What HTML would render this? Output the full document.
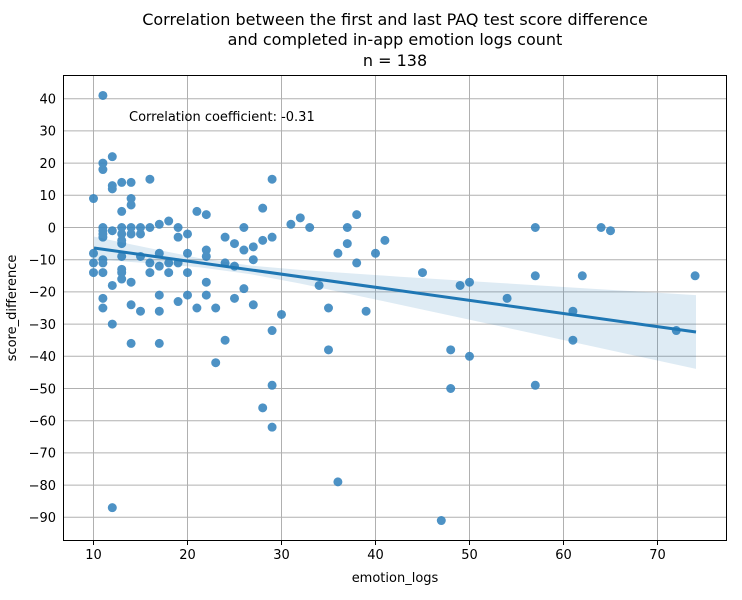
<!DOCTYPE html>
<html><head><meta charset="utf-8"><style>
html,body{margin:0;padding:0;background:#fff;}
svg{display:block;font-family:"DejaVu Sans","Liberation Sans",sans-serif;}
</style></head><body>
<svg width="742" height="600" viewBox="0 0 742 600" xmlns="http://www.w3.org/2000/svg">
<rect width="742" height="600" fill="#fff"/>
<g font-size="16" text-anchor="middle" fill="#000">
<text x="395" y="25">Correlation between the first and last PAQ test score difference</text>
<text x="395" y="45">and completed in-app emotion logs count</text>
<text x="395" y="66">n = 138</text>
</g>
<g stroke="#b0b0b0" stroke-width="1">
<line x1="93.5" y1="75" x2="93.5" y2="541"/><line x1="187.5" y1="75" x2="187.5" y2="541"/>
<line x1="281.5" y1="75" x2="281.5" y2="541"/><line x1="375.5" y1="75" x2="375.5" y2="541"/>
<line x1="469.5" y1="75" x2="469.5" y2="541"/><line x1="563.5" y1="75" x2="563.5" y2="541"/>
<line x1="657.5" y1="75" x2="657.5" y2="541"/>
<line x1="63" y1="98.7" x2="727" y2="98.7"/><line x1="63" y1="130.9" x2="727" y2="130.9"/>
<line x1="63" y1="163.1" x2="727" y2="163.1"/><line x1="63" y1="195.3" x2="727" y2="195.3"/>
<line x1="63" y1="227.5" x2="727" y2="227.5"/><line x1="63" y1="259.7" x2="727" y2="259.7"/>
<line x1="63" y1="291.9" x2="727" y2="291.9"/><line x1="63" y1="324.1" x2="727" y2="324.1"/>
<line x1="63" y1="356.3" x2="727" y2="356.3"/><line x1="63" y1="388.5" x2="727" y2="388.5"/>
<line x1="63" y1="420.7" x2="727" y2="420.7"/><line x1="63" y1="452.9" x2="727" y2="452.9"/>
<line x1="63" y1="485.1" x2="727" y2="485.1"/><line x1="63" y1="517.3" x2="727" y2="517.3"/>
</g>
<path transform="translate(-0.5,227.5) scale(9.4,-3.22)" fill="none" stroke="#3a86bf" stroke-opacity="0.9" stroke-width="9" stroke-linecap="round" vector-effect="non-scaling-stroke"
d="M11 41h0M12 22h0M11 20h0M11 18h0M12 13h0M12 12h0M13 14h0M14 14h0M16 15h0M29 15h0M10 9h0M14 9h0M14 7h0M13 5h0M21 5h0M22 4h0M28 6h0
M11 0h0M13 0h0M14 0h0M15 0h0M16 0h0M17 1h0M18 2h0M19 0h0M31 1h0M32 3h0M33 0h0M26 0h0
M11 -1h0M11 -2h0M11 -3h0M12 -1h0M13 -2h0M14 -2h0M15 -2h0M19 -3h0M20 -2h0M24 -3h0M25 -5h0M26 -7h0M27 -6h0M28 -4h0M29 -3h0M13 -4h0M13 -5h0
M10 -8h0M10 -11h0M10 -14h0M11 -10h0M11 -11h0M11 -14h0M13 -9h0M15 -9h0M17 -8h0M16 -11h0M16 -14h0M18 -11h0M19 -11h0M20 -8h0M20 -14h0M18 -14h0M17 -12h0M22 -7h0M22 -9h0M24 -11h0M25 -12h0M27 -10h0
M13 -13h0M13 -14h0M13 -16h0M14 -17h0M12 -18h0M11 -22h0M11 -25h0M17 -21h0M14 -24h0M15 -26h0M17 -26h0M19 -23h0M20 -21h0M21 -25h0M22 -21h0M22 -17h0M23 -25h0M25 -22h0M26 -19h0M27 -24h0M30 -27h0M35 -25h0M39 -26h0
M12 -30h0M14 -36h0M17 -36h0M29 -32h0M24 -35h0M35 -38h0M23 -42h0M29 -49h0M28 -56h0M29 -62h0M36 -79h0M12 -87h0
M36 -8h0M37 0h0M37 -5h0M38 4h0M38 -11h0M40 -8h0M41 -4h0M34 -18h0M45 -14h0M49 -18h0M50 -17h0M54 -22h0M57 0h0M57 -15h0M62 -15h0M64 0h0M65 -1h0M61 -26h0M61 -35h0M48 -38h0M50 -40h0M48 -50h0M57 -49h0M72 -32h0M74 -15h0M47 -91h0"/>
<polygon fill="#1f77b4" fill-opacity="0.15" points="94,236.6 150,248.3 200,258.2 250,265.5 300,269.9 400,276.7 500,283 600,289.2 696,295.1 696,368.9 600,348 500,326.2 400,304.7 300,283.5 250,274.1 200,267.4 150,263.3 94,259.4"/>
<line x1="94" y1="248" x2="696" y2="332" stroke="#1f77b4" stroke-width="3"/>
<rect x="63.5" y="75.5" width="663" height="465" fill="none" stroke="#000" stroke-width="1"/>
<g stroke="#000"><line x1="93.5" y1="541" x2="93.5" y2="545"/><line x1="187.5" y1="541" x2="187.5" y2="545"/><line x1="281.5" y1="541" x2="281.5" y2="545"/><line x1="375.5" y1="541" x2="375.5" y2="545"/><line x1="469.5" y1="541" x2="469.5" y2="545"/><line x1="563.5" y1="541" x2="563.5" y2="545"/><line x1="657.5" y1="541" x2="657.5" y2="545"/></g>
<g font-size="13" text-anchor="middle"><text x="93.5" y="559">10</text><text x="187.5" y="559">20</text><text x="281.5" y="559">30</text><text x="375.5" y="559">40</text><text x="469.5" y="559">50</text><text x="563.5" y="559">60</text><text x="657.5" y="559">70</text></g>
<g font-size="13" text-anchor="end">
<text x="56" y="103.5">40</text><text x="56" y="135.7">30</text><text x="56" y="167.9">20</text><text x="56" y="200.1">10</text><text x="56" y="232.3">0</text><text x="56" y="264.5">−10</text><text x="56" y="296.7">−20</text><text x="56" y="328.9">−30</text><text x="56" y="361.1">−40</text><text x="56" y="393.3">−50</text><text x="56" y="425.5">−60</text><text x="56" y="457.7">−70</text><text x="56" y="489.9">−80</text><text x="56" y="522.1">−90</text></g>
<text x="395" y="582" font-size="13" text-anchor="middle">emotion_logs</text>
<text transform="translate(16,308) rotate(-90)" font-size="13" text-anchor="middle">score_difference</text>
<text x="129" y="121" font-size="13">Correlation coefficient: -0.31</text>
</svg>
</body></html>
